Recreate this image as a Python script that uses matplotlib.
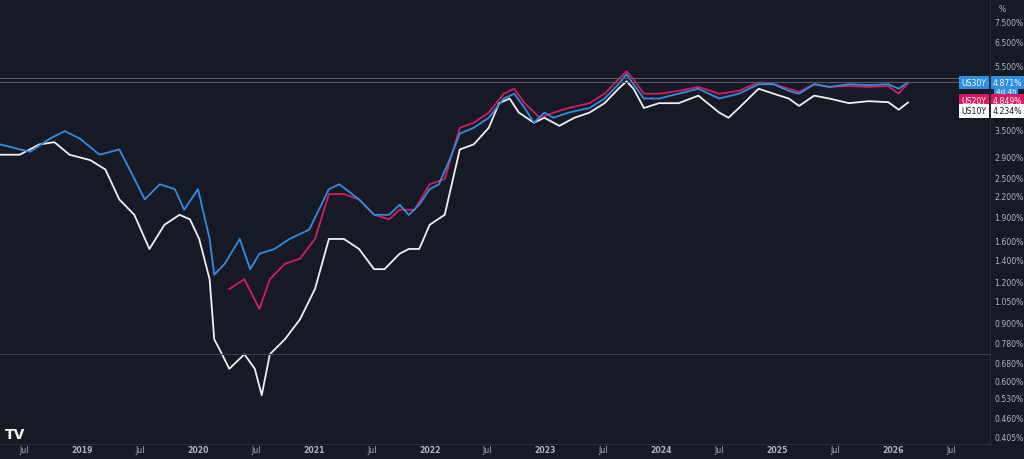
import matplotlib
matplotlib.use("Agg")
import matplotlib.pyplot as plt
import matplotlib.ticker as mt

us30_t = [2018.29,2018.55,2018.72,2018.85,2018.98,2019.15,2019.32,2019.41,2019.54,2019.67,2019.80,2019.88,2020.0,2020.10,2020.14,2020.23,2020.36,2020.45,2020.53,2020.66,2020.79,2020.96,2021.13,2021.22,2021.39,2021.52,2021.65,2021.74,2021.82,2021.91,2022.0,2022.08,2022.17,2022.26,2022.38,2022.51,2022.64,2022.73,2022.82,2022.90,2022.99,2023.07,2023.20,2023.38,2023.51,2023.63,2023.70,2023.76,2023.85,2023.98,2024.15,2024.32,2024.50,2024.67,2024.84,2024.97,2025.10,2025.19,2025.32,2025.45,2025.62,2025.79,2025.96,2026.05,2026.13]
us30_v = [3.15,2.99,3.28,3.46,3.28,2.93,3.04,2.64,2.14,2.38,2.30,1.99,2.30,1.62,1.26,1.36,1.62,1.31,1.46,1.51,1.62,1.73,2.30,2.38,2.14,1.92,1.92,2.06,1.92,2.06,2.30,2.38,2.82,3.40,3.54,3.80,4.35,4.50,4.07,3.67,3.94,3.80,3.94,4.07,4.35,4.81,5.16,4.81,4.35,4.35,4.50,4.66,4.35,4.50,4.81,4.81,4.59,4.50,4.81,4.72,4.81,4.78,4.81,4.66,4.87]

us20_t = [2020.27,2020.40,2020.53,2020.62,2020.75,2020.88,2021.01,2021.13,2021.26,2021.39,2021.52,2021.65,2021.74,2021.87,2022.0,2022.13,2022.26,2022.38,2022.51,2022.64,2022.73,2022.82,2022.95,2023.07,2023.20,2023.38,2023.51,2023.63,2023.70,2023.76,2023.85,2023.98,2024.15,2024.32,2024.50,2024.67,2024.84,2024.97,2025.10,2025.19,2025.32,2025.45,2025.62,2025.79,2025.96,2026.05,2026.13]
us20_v = [1.14,1.22,0.99,1.22,1.36,1.41,1.62,2.22,2.22,2.14,1.92,1.86,1.99,1.99,2.38,2.47,3.54,3.67,3.94,4.50,4.66,4.21,3.80,3.94,4.07,4.21,4.50,4.98,5.27,4.98,4.50,4.50,4.59,4.72,4.50,4.59,4.88,4.81,4.66,4.56,4.81,4.72,4.75,4.72,4.75,4.50,4.85]

us10_t = [2018.29,2018.46,2018.63,2018.76,2018.89,2019.07,2019.20,2019.32,2019.45,2019.58,2019.71,2019.84,2019.93,2020.01,2020.10,2020.14,2020.19,2020.27,2020.40,2020.49,2020.55,2020.62,2020.75,2020.88,2021.01,2021.13,2021.26,2021.39,2021.52,2021.61,2021.74,2021.82,2021.91,2022.0,2022.13,2022.26,2022.38,2022.51,2022.60,2022.69,2022.77,2022.90,2022.99,2023.12,2023.25,2023.38,2023.51,2023.63,2023.70,2023.76,2023.85,2023.98,2024.15,2024.32,2024.50,2024.58,2024.67,2024.84,2024.97,2025.10,2025.19,2025.32,2025.45,2025.62,2025.79,2025.96,2026.05,2026.13]
us10_v = [2.93,2.93,3.15,3.20,2.93,2.82,2.64,2.14,1.92,1.51,1.79,1.92,1.86,1.62,1.22,0.80,0.74,0.65,0.72,0.65,0.54,0.72,0.80,0.92,1.14,1.62,1.62,1.51,1.31,1.31,1.46,1.51,1.51,1.79,1.92,3.04,3.15,3.54,4.21,4.35,3.94,3.67,3.80,3.59,3.80,3.94,4.21,4.66,4.91,4.66,4.07,4.21,4.21,4.44,3.94,3.80,4.07,4.66,4.50,4.35,4.13,4.44,4.35,4.21,4.27,4.24,4.02,4.23]

ytick_vals = [0.405,0.46,0.53,0.6,0.68,0.78,0.9,1.05,1.2,1.4,1.6,1.9,2.2,2.5,2.9,3.5,5.5,6.5,7.5]
xtick_pos = [2018.5,2019,2019.5,2020,2020.5,2021,2021.5,2022,2022.5,2023,2023.5,2024,2024.5,2025,2025.5,2026,2026.5]
xtick_lab = ["Jul","2019","Jul","2020","Jul","2021","Jul","2022","Jul","2023","Jul","2024","Jul","2025","Jul","2026","Jul"]

BG = "#161a25"
BLUE = "#2f8de4"
RED = "#d81b60"
WHITE = "#f0f0f0"
TXT = "#b2b5be"
FS = 5.6

fig = plt.figure(figsize=(10.24, 4.6), dpi=100, facecolor=BG)
ax = fig.add_axes([0, 0.0326, 0.967, 0.9674], facecolor=BG)
ax.set_yscale("log")
ax.set_ylim(0.383, 8.76)
ax.set_xlim(2018.29, 2026.84)

ax.plot(us10_t, us10_v, color=WHITE, lw=1.3)
ax.plot(us20_t, us20_v, color=RED, lw=1.3)
ax.plot(us30_t, us30_v, color=BLUE, lw=1.3)

for v in (us30_v[-1] * 1.03, us30_v[-1]):
    ax.axhline(v, color="#5d606b", lw=0.7)
ax.axhline(0.72, color="#3a3e4a", lw=0.8)

ax.yaxis.tick_right()
ax.set_yticks(ytick_vals)
ax.yaxis.set_major_formatter(mt.FuncFormatter(lambda v, p: f"{v:.3f}%"))
ax.yaxis.set_minor_locator(mt.NullLocator())
ax.set_xticks(xtick_pos)
ax.set_xticklabels(xtick_lab)
ax.tick_params(colors=TXT, labelsize=FS, length=0)
ax.tick_params(axis="y", pad=3)
ax.tick_params(axis="x", pad=1)
for lab in ax.get_xticklabels():
    if lab.get_text() != "Jul":
        lab.set_fontweight("bold")
for s in ax.spines.values():
    s.set_visible(False)
ax.spines["right"].set_visible(True)
ax.spines["right"].set_color("#2a2e39")
ax.spines["bottom"].set_visible(True)
ax.spines["bottom"].set_color("#2a2e39")
ax.grid(False)

def tag(y, name, val, fc, tc, yoff=0):
    kw = dict(xycoords=("axes fraction", "data"), textcoords="offset points", va="center",
              fontsize=FS, color=tc, annotation_clip=False,
              bbox=dict(boxstyle="square,pad=0.3", fc=fc, ec="none"))
    ax.annotate(name, xy=(1, y), xytext=(-2.5, yoff), ha="right", **kw)
    ax.annotate(f"{val:.3f}%", xy=(1, y), xytext=(2, yoff), ha="left", **kw)

base = 4.871
tag(base, "US30Y", 4.871, BLUE, "white", 0)
ax.annotate("4d 4h", xy=(1, base), xycoords=("axes fraction", "data"), xytext=(4, -6),
            textcoords="offset points", ha="left", va="center", fontsize=FS - 0.4, color="white",
            bbox=dict(boxstyle="square,pad=0.25", fc=BLUE, ec="none"), annotation_clip=False)
tag(base, "US20Y", 4.849, RED, "white", -13)
tag(base, "US10Y", 4.234, "white", "#131722", -20.5)

fig.text(0.975, 0.99, "%", color=TXT, fontsize=FS, va="top")
fig.text(0.005, 0.045, "TV", color="white", fontsize=10, fontweight="bold")
fig.savefig("out.png", dpi=100, facecolor=BG)
